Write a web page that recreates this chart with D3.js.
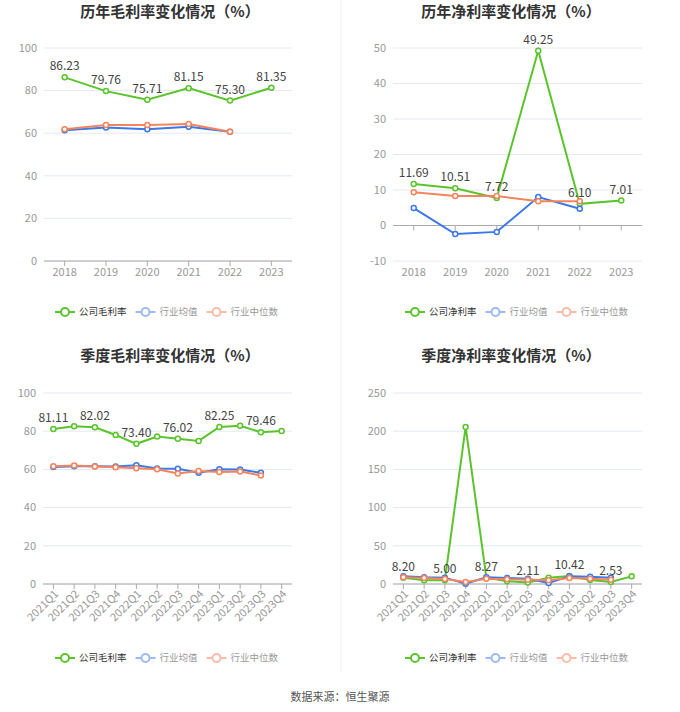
<!DOCTYPE html>
<html><head><meta charset="utf-8">
<script src="https://cdn.jsdelivr.net/npm/d3@7"></script>
<style>
html,body{margin:0;padding:0;background:#fff;}
svg{display:block;font-family:"Noto Sans CJK SC","Noto Sans",sans-serif;}
</style></head>
<body><svg id="c" width="680" height="712"></svg>
<script>
const years = ["2018","2019","2020","2021","2022","2023"];
const quarters = ["2021Q1","2021Q2","2021Q3","2021Q4","2022Q1","2022Q2","2022Q3","2022Q4","2023Q1","2023Q2","2023Q3","2023Q4"];

const annualGrossCompany = [86.23, 79.76, 75.71, 81.15, 75.30, 81.35];
const annualGrossAvg     = [61.4, 62.7, 61.8, 63.0, 60.7];
const annualGrossMedian  = [61.9, 63.9, 63.9, 64.3, 60.7];

const annualNetCompany = [11.69, 10.51, 7.72, 49.25, 6.10, 7.01];
const annualNetAvg     = [4.9, -2.4, -1.8, 8.0, 4.7];
const annualNetMedian  = [9.4, 8.3, 8.3, 6.8, 6.8];

const qGrossCompany = [81.11, 82.6, 82.02, 78.0, 73.40, 77.2, 76.02, 74.9, 82.25, 82.8, 79.46, 80.1];
const qGrossAvg     = [61.3, 61.7, 61.7, 61.5, 62.2, 60.5, 60.3, 58.2, 60.1, 59.9, 58.2];
const qGrossMedian  = [61.7, 62.0, 61.5, 61.1, 60.6, 60.1, 57.8, 59.1, 58.7, 58.9, 56.8];

const qNetCompany = [8.20, 4.8, 5.00, 205.6, 8.27, 3.5, 2.11, 8.3, 10.42, 5.2, 2.53, 10.0];
const qNetAvg     = [10.0, 8.7, 8.3, 0.3, 8.7, 7.8, 7.0, 1.3, 10.0, 9.6, 8.3];
const qNetMedian  = [8.7, 7.8, 6.5, 2.6, 7.0, 6.1, 5.7, 4.8, 7.8, 7.0, 5.7];

const yTicksGross = [0, 20, 40, 60, 80, 100];
const yTicksAnnualNet = [-10, 0, 10, 20, 30, 40, 50];
const yTicksQNet = [0, 50, 100, 150, 200, 250];

const COLORS = {company:"#5ac42c", avg:"#3c78e6", median:"#f5845c"};
const svg = d3.select("#c");

// divider
svg.append("line").attr("x1",341).attr("x2",341).attr("y1",0).attr("y2",672)
  .attr("stroke","#f0f0f0").attr("stroke-width",1);

function panel(o){
  const g = svg.append("g");
  g.append("text").attr("x",o.cx).attr("y",o.titleY).attr("text-anchor","middle")
    .attr("font-size",15).attr("font-weight","bold").attr("fill","#333").text(o.title);
  const x = d3.scaleBand().domain(o.cats).range([o.x0,o.x1]);
  const y = d3.scaleLinear().domain([o.ticks[0], o.ticks[o.ticks.length-1]]).range([o.yb,o.yt]);
  // grid
  g.selectAll(".grid").data(o.ticks).enter().append("line")
    .attr("x1",o.x0).attr("x2",o.x1).attr("y1",d=>y(d)).attr("y2",d=>y(d))
    .attr("stroke","#e3e8f2").attr("stroke-width",1);
  // y labels
  g.selectAll(".yl").data(o.ticks).enter().append("text")
    .attr("x",o.x0-7).attr("y",d=>y(d)).attr("dy","0.35em").attr("text-anchor","end")
    .attr("font-size",11).attr("fill","#999").text(d=>d);
  // x axis
  const y0 = y(0);
  g.append("line").attr("x1",o.x0).attr("x2",o.x1).attr("y1",y0).attr("y2",y0)
    .attr("stroke","#aaa").attr("stroke-width",1);
  o.cats.forEach(c=>{
    const cx = x(c)+x.bandwidth()/2;
    g.append("line").attr("x1",cx).attr("x2",cx).attr("y1",y0).attr("y2",y0+5)
      .attr("stroke","#aaa").attr("stroke-width",1);
    if(o.rotate){
      g.append("text").attr("transform",`translate(${cx+3},${y0+8}) rotate(-45)`)
        .attr("text-anchor","end").attr("dy","0.35em").attr("font-size",11).attr("fill","#999").text(c);
    } else {
      g.append("text").attr("x",cx).attr("y",o.xLabelY).attr("dy","0.35em").attr("text-anchor","middle")
        .attr("font-size",11).attr("fill","#999").text(c);
    }
  });
  const line = d3.line().x((d,i)=>x(o.cats[i])+x.bandwidth()/2).y(d=>y(d));
  const series = [[o.company,COLORS.company],[o.avg,COLORS.avg],[o.median,COLORS.median]];
  series.forEach(([vals,col])=>{
    g.append("path").datum(vals).attr("d",line).attr("fill","none").attr("stroke",col).attr("stroke-width",2);
    g.selectAll(null).data(vals).enter().append("circle")
      .attr("cx",(d,i)=>x(o.cats[i])+x.bandwidth()/2).attr("cy",d=>y(d)).attr("r",2.5)
      .attr("fill","#fff").attr("stroke",col).attr("stroke-width",1.5);
  });
  o.company.forEach((v,i)=>{
    if(i % o.labelEvery !== 0) return;
    g.append("text").attr("x",x(o.cats[i])+x.bandwidth()/2).attr("y",y(v)-7)
      .attr("text-anchor","middle").attr("font-size",12).attr("fill","#444").text(v.toFixed(2));
  });
  // legend
  const items = [[o.legend0,COLORS.company,"#333"],["行业均值","#9dbaf2","#999"],["行业中位数","#f8bda6","#999"]];
  let lx = o.legendX;
  items.forEach(([t,col,tc])=>{
    g.append("line").attr("x1",lx).attr("x2",lx+20).attr("y1",o.legendY).attr("y2",o.legendY)
      .attr("stroke",col).attr("stroke-width",2);
    g.append("circle").attr("cx",lx+10).attr("cy",o.legendY).attr("r",4)
      .attr("fill","#fff").attr("stroke",col).attr("stroke-width",2);
    const tt = g.append("text").attr("x",lx+24).attr("y",o.legendY).attr("dy","0.35em")
      .attr("font-size",9.5).attr("fill",tc).text(t);
    lx += 24 + tt.node().getComputedTextLength() + 9;
  });
}

panel({title:"历年毛利率变化情况（%）",cx:170,titleY:17,cats:years,x0:44,x1:292,yt:48,yb:261,
  ticks:yTicksGross,company:annualGrossCompany,avg:annualGrossAvg,median:annualGrossMedian,
  labelEvery:1,xLabelY:272,rotate:false,legend0:"公司毛利率",legendX:55,legendY:312});
panel({title:"历年净利率变化情况（%）",cx:511,titleY:17,cats:years,x0:393,x1:642,yt:48,yb:261,
  ticks:yTicksAnnualNet,company:annualNetCompany,avg:annualNetAvg,median:annualNetMedian,
  labelEvery:1,xLabelY:272,rotate:false,legend0:"公司净利率",legendX:405,legendY:312});
panel({title:"季度毛利率变化情况（%）",cx:170,titleY:361,cats:quarters,x0:43,x1:292,yt:393,yb:584,
  ticks:yTicksGross,company:qGrossCompany,avg:qGrossAvg,median:qGrossMedian,
  labelEvery:2,rotate:true,legend0:"公司毛利率",legendX:55,legendY:658});
panel({title:"季度净利率变化情况（%）",cx:511,titleY:361,cats:quarters,x0:393,x1:642,yt:393,yb:584,
  ticks:yTicksQNet,company:qNetCompany,avg:qNetAvg,median:qNetMedian,
  labelEvery:2,rotate:true,legend0:"公司净利率",legendX:405,legendY:658});

svg.append("text").attr("x",340).attr("y",697).attr("dy","0.35em").attr("text-anchor","middle")
  .attr("font-size",11).attr("fill","#555").text("数据来源：恒生聚源");
</script></body></html>
